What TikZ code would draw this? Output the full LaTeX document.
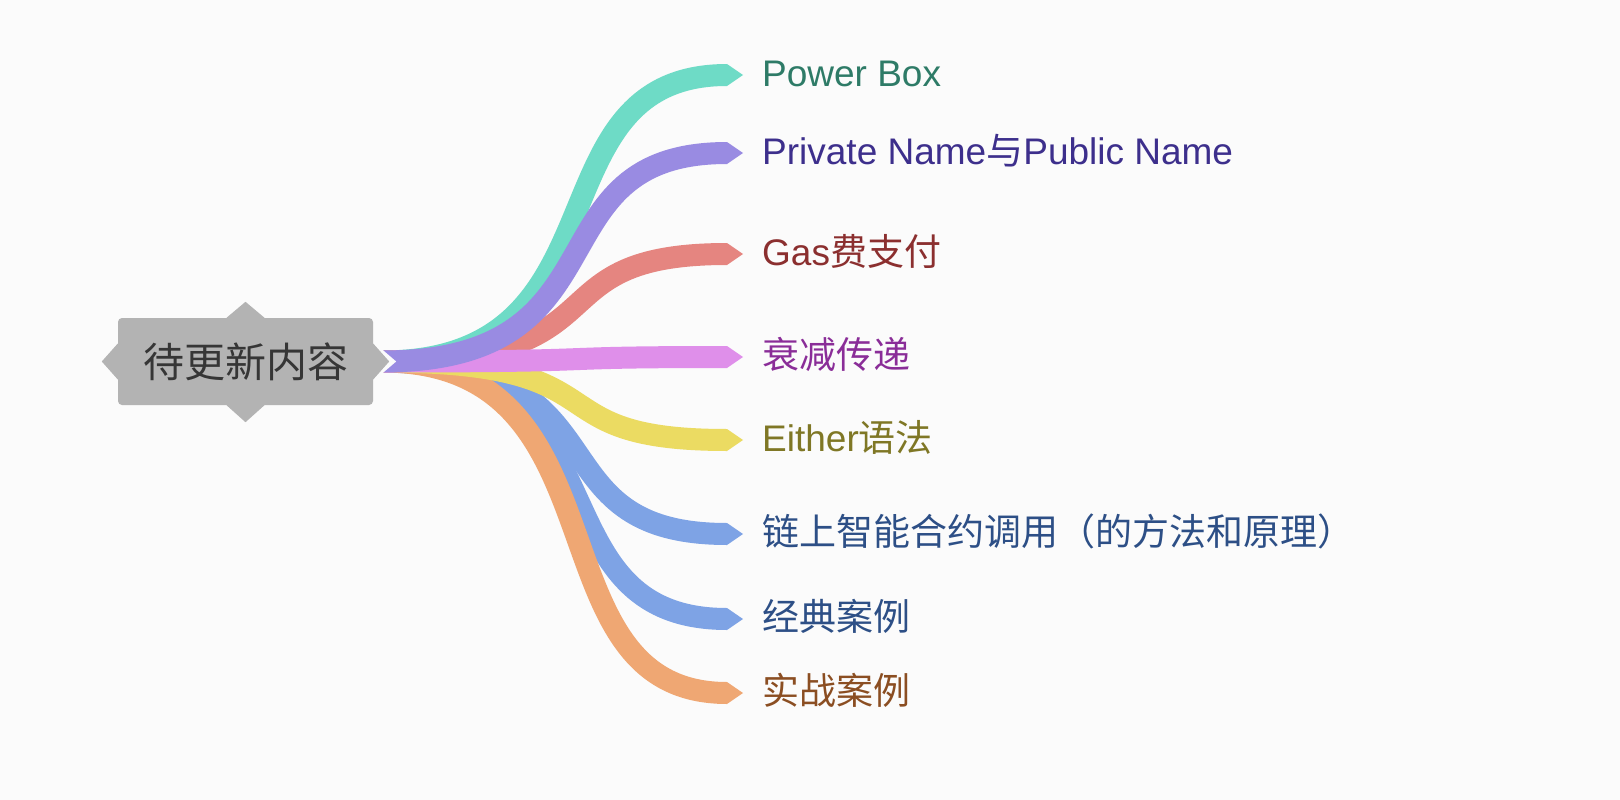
\documentclass[tikz,border=0pt]{standalone}
\usepackage{fontspec}
\setmainfont{Liberation Sans}
\newfontfamily\cjk{Noto Sans CJK SC}
\usetikzlibrary{calc}
\definecolor{paper}{HTML}{FBFBFB}
\definecolor{rootfill}{HTML}{B3B3B3}
\definecolor{rootink}{HTML}{363636}
\definecolor{tealband}{HTML}{6EDBC6}
\definecolor{tealink}{HTML}{2E7B67}
\definecolor{lilacband}{HTML}{998BE2}
\definecolor{lilacink}{HTML}{3D2F8C}
\definecolor{salmonband}{HTML}{E58580}
\definecolor{salmonink}{HTML}{8B2F2F}
\definecolor{pinkband}{HTML}{DF8FEA}
\definecolor{pinkink}{HTML}{8A2D98}
\definecolor{yellowband}{HTML}{EBDB62}
\definecolor{yellowink}{HTML}{7F7725}
\definecolor{blueband}{HTML}{7EA3E5}
\definecolor{blueink}{HTML}{2D4F86}
\definecolor{orangeband}{HTML}{EFA773}
\definecolor{orangeink}{HTML}{8B4E22}
\newcommand{\branch}[2]{%
  \draw[#1, line width=22pt] (start) .. controls +(250,0) and +(-200,0) .. ($(#2.west)+(-35,0)$);
  \fill[#1] ($(#2.west)+(-35,-11)$) -- ($(#2.west)+(-19,0)$) -- ($(#2.west)+(-35,11)$) -- cycle;
}

\begin{document}
\begin{tikzpicture}[x=1pt, y=-1pt,
  rootbox/.style={fill=rootfill, text=rootink, rounded corners=4pt, inner sep=0pt,
    minimum width=255pt, minimum height=87pt, font=\cjk\fontsize{41}{48}\selectfont},
  leaf/.style={anchor=west, inner sep=0pt, text height=30pt, text depth=8pt,
    font=\fontsize{37}{44}\selectfont}]

  \fill[paper] (0,0) rectangle (1620,800);
  \useasboundingbox (0,0) rectangle (1620,800);

  %% root
  \node[rootbox] (root) at (245.5,361.5) {待更新内容};
  \fill[rootfill] ($(root.north)+(-19,0)$) -- ($(root.north)+(0,-16)$) -- ($(root.north)+(19,0)$) -- cycle;
  \fill[rootfill] ($(root.south)+(-19,0)$) -- ($(root.south)+(0,17)$) -- ($(root.south)+(19,0)$) -- cycle;
  \fill[rootfill] ($(root.west)+(0,-18)$) -- ($(root.west)+(-16,0)$) -- ($(root.west)+(0,18)$) -- cycle;
  \coordinate (start) at ($(root.east)+(9,0)$);

  %% leaves
  \node[leaf, text=tealink] (powerbox) at (762,75) {Power Box};
  \node[leaf, text=lilacink] (names) at (762,153) {Private Name{\cjk 与}Public Name};
  \node[leaf, text=salmonink] (gas) at (762,254) {Gas{\cjk 费支付}};
  \node[leaf, text=pinkink] (decay) at (762,357) {\cjk 衰减传递};
  \node[leaf, text=yellowink] (either) at (762,440) {Either{\cjk 语法}};
  \node[leaf, text=blueink] (onchain) at (762,534) {\cjk 链上智能合约调用（的方法和原理）};
  \node[leaf, text=blueink] (classic) at (762,619) {\cjk 经典案例};
  \node[leaf, text=orangeink] (practice) at (762,693) {\cjk 实战案例};

  %% branches, back to front
  \branch{blueband}{classic}
  \branch{blueband}{onchain}
  \branch{orangeband}{practice}
  \branch{yellowband}{either}
  \branch{tealband}{powerbox}
  \branch{salmonband}{gas}
  \branch{pinkband}{decay}
  \branch{lilacband}{names}

  %% notch where the branches leave the root
  \fill[paper] ($(start)+(0,-12)$) -- ($(start)+(14,0)$) -- ($(start)+(0,12)$) -- cycle;
  \fill[rootfill] ($(root.east)+(0,-18)$) -- ($(root.east)+(16,0)$) -- ($(root.east)+(0,18)$) -- cycle;

\end{tikzpicture}
\end{document}
